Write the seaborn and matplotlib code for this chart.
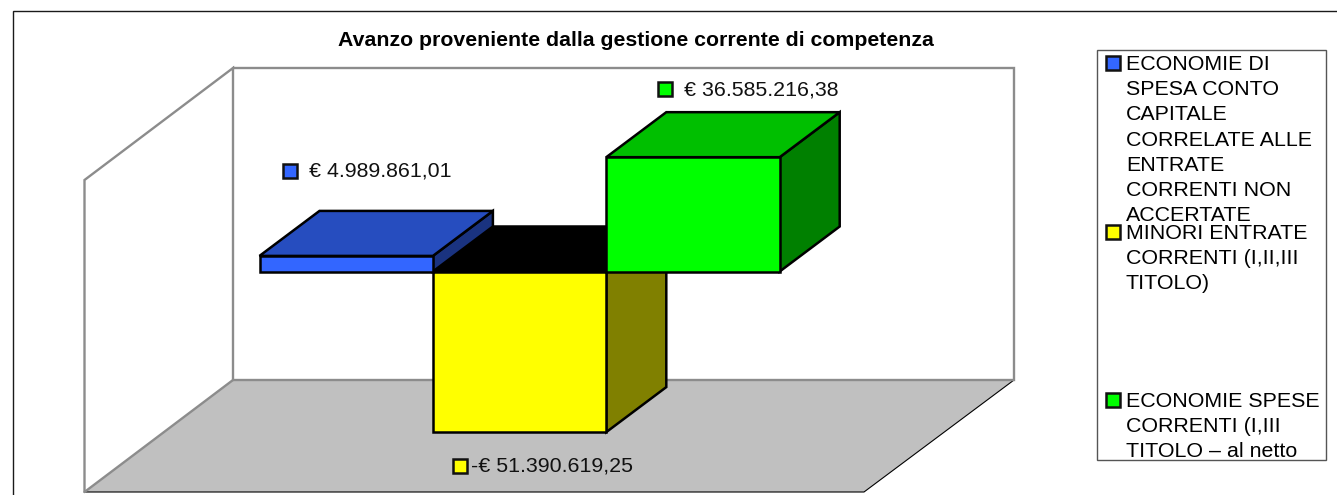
import matplotlib
matplotlib.use("Agg")
import matplotlib.pyplot as plt
from matplotlib.patches import Polygon, Rectangle
import seaborn as sns
import pandas as pd

# ---- data -------------------------------------------------------------
title = "Avanzo proveniente dalla gestione corrente di competenza"
categories = ["ECONOMIE DI SPESA", "MINORI ENTRATE", "ECONOMIE SPESE"]
values = [4989861.01, -51390619.25, 36585216.38]
value_labels = ["€ 4.989.861,01", "-€ 51.390.619,25", "€ 36.585.216,38"]
legend_lines = [
    ["ECONOMIE DI", "SPESA CONTO", "CAPITALE", "CORRELATE ALLE", "ENTRATE",
     "CORRENTI NON", "ACCERTATE"],
    ["MINORI ENTRATE", "CORRENTI (I,II,III", "TITOLO)"],
    ["ECONOMIE SPESE", "CORRENTI (I,III", "TITOLO – al netto"],
]
front_colors = ["#3366FF", "#FFFF00", "#00FF00"]
top_colors = ["#264DBF", "#000000", "#00BF00"]
side_colors = ["#1A3380", "#808000", "#008000"]

# ---- layout (pixels of the 1337x495 image) ------------------------------
W, H = 1337, 495
BAR_PX = 173.4          # width of one category
LEFT_PX = 259.5         # left edge of first bar
ZERO_PX = 271.5         # y of value 0
PX_PER_EURO = 3.125e-6  # vertical scale
DEPTH_X_PX, DEPTH_Y_PX = 60, 45
TEXT_PT = 15.4

sns.set_theme(style="white")
plt.rcParams["font.family"] = ["Liberation Sans", "DejaVu Sans"]
fig = plt.figure(figsize=(W / 100, H / 100), dpi=100, facecolor="white")

# backdrop in pixel coordinates: frame, walls, floor, texts
bg = fig.add_axes([0, 0, 1, 1], zorder=1)
bg.set_xlim(0, W)
bg.set_ylim(H, 0)
bg.axis("off")

bg.add_patch(Rectangle((12.5, 10.5), W + 20, H + 20, fc="white", ec="#1a1a1a", lw=1.0))
bg.add_patch(Polygon([(85, 492), (233, 380), (1014, 380), (864, 492)],
                     closed=True, fc="#C0C0C0", ec="none"))
bg.plot([85, 864, 1014], [492, 492, 380], color="black", lw=0.8, solid_joinstyle="miter")
bg.plot([84.5, 84.5, 233, 233, 1014, 1014, 233], [492, 180, 68, 380, 380, 68, 68],
        color="#8C8C8C", lw=1.7, solid_joinstyle="miter")
bg.plot([84.5, 233], [492, 380], color="#8C8C8C", lw=1.7)

bg.text(636, 40.5, title, ha="center", va="center", fontsize=15.35, fontweight="bold", color="black")


def swatch(x, y, color):
    bg.add_patch(Rectangle((x, y), 14, 14, fc=color, ec="#111111", lw=1.8, zorder=5))


# data labels
label_swatch = [(282.5, 163.5), (452.5, 459), (657.5, 82)]
label_text_x = [309, 471, 684]
for (sx, sy), tx, lab, col in zip(label_swatch, label_text_x, value_labels, front_colors):
    swatch(sx, sy, col)
    bg.text(tx, sy + 7.5, lab, ha="left", va="center", fontsize=TEXT_PT, color="#111111", zorder=5)

# legend box
bg.add_patch(Rectangle((1096.5, 49.5), 229.5, 410.5, fc="white", ec="#555555", lw=1.0, zorder=2))
legend_top = [56, 225, 393]
for top, lines, col in zip(legend_top, legend_lines, front_colors):
    swatch(1105.5, top, col)
    for i, line in enumerate(lines):
        bg.text(1126, top + 8.5 + i * 25.2, line, ha="left", va="center",
                fontsize=TEXT_PT, color="black", zorder=6)

# bars on data scales, axes stretched over the whole figure
ax = fig.add_axes([0, 0, 1, 1], zorder=2)
ax.patch.set_alpha(0)
df = pd.DataFrame({"categoria": categories, "valore": values})
sns.barplot(data=df, x="categoria", y="valore", hue="categoria", order=categories,
            hue_order=categories, palette=front_colors, saturation=1, width=1.0,
            dodge=False, legend=False, edgecolor="black", linewidth=1.8, ax=ax)
ax.set_xlim(-0.5 - LEFT_PX / BAR_PX, -0.5 + (W - LEFT_PX) / BAR_PX)
ax.set_ylim(-(H - ZERO_PX) / PX_PER_EURO, ZERO_PX / PX_PER_EURO)
ax.axis("off")

dx = DEPTH_X_PX / BAR_PX
dy = DEPTH_Y_PX / PX_PER_EURO
bars = list(ax.patches)
draw_order = [1, 0, 2]  # negative bar behind the other two
for rank, i in enumerate(draw_order):
    bar = bars[i]
    x0 = bar.get_x()
    x1 = x0 + bar.get_width()
    hi = max(values[i], 0)
    lo = min(values[i], 0)
    z = 3 + rank * 3
    edge = dict(ec="black", lw=1.8, joinstyle="miter", zorder=z)
    ax.add_patch(Polygon([(x1, lo), (x1 + dx, lo + dy), (x1 + dx, hi + dy), (x1, hi)],
                         closed=True, fc=side_colors[i], **edge))
    ax.add_patch(Polygon([(x0, hi), (x0 + dx, hi + dy), (x1 + dx, hi + dy), (x1, hi)],
                         closed=True, fc=top_colors[i], **edge))
    bar.set_zorder(z + 1)
    bar.set_joinstyle("miter")

fig.savefig("out.png", dpi=100, facecolor="white")
